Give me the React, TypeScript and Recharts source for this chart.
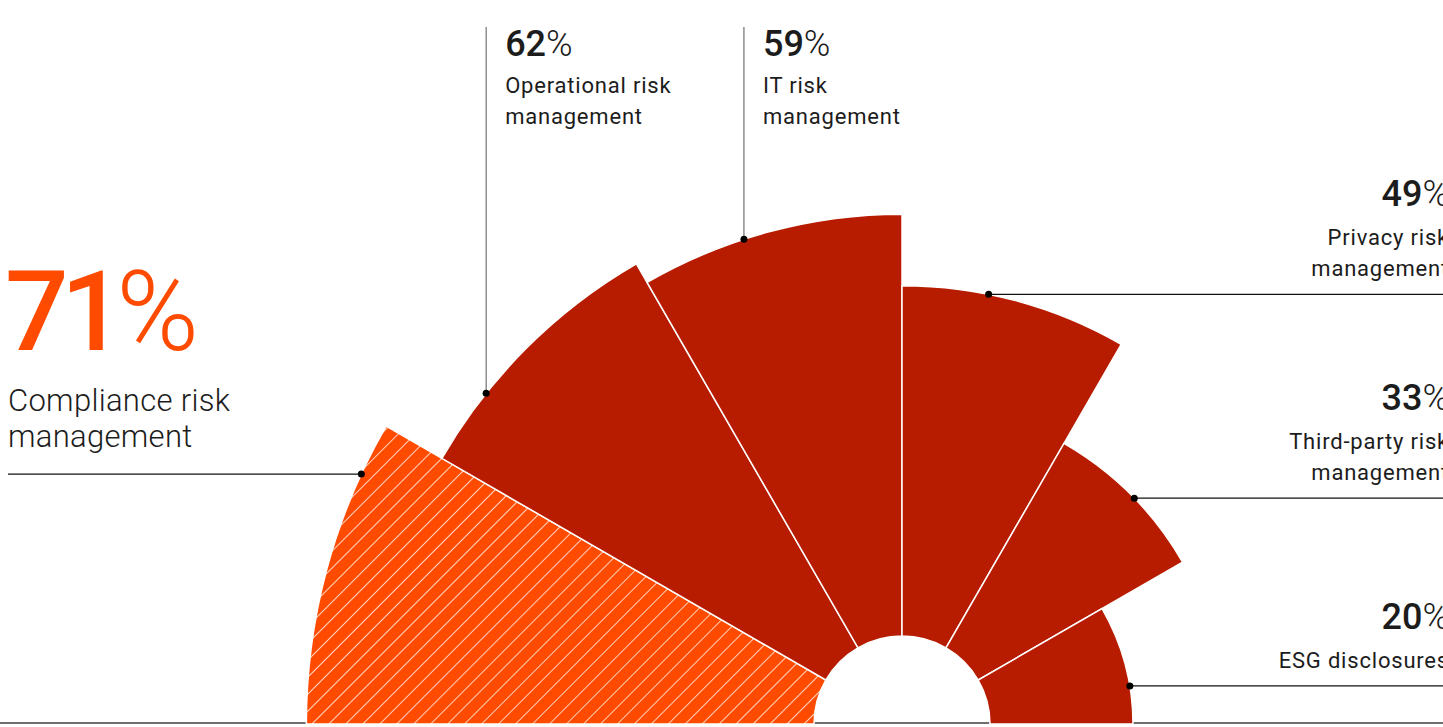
import { RadialBarChart, RadialBar, PolarAngleAxis, PolarRadiusAxis, Cell, Sector } from "recharts";

// survey: share of organisations naming each area (in %)
const categories = [
  "Compliance risk management",
  "Operational risk management",
  "IT risk management",
  "Privacy risk management",
  "Third-party risk management",
  "ESG disclosures",
];
const labelLines = [
  ["Compliance risk", "management"],
  ["Operational risk", "management"],
  ["IT risk", "management"],
  ["Privacy risk", "management"],
  ["Third-party risk", "management"],
  ["ESG disclosures"],
];
const shares = [71, 62, 59, 49, 33, 20];

// where each leader line leaves its slice (fraction of the slice angle) and which way it runs
const leaderSide = ["left", "up", "up", "right", "right", "right"];
const dotAt = [0.827, 0.283, 0.398, 0.38, 0.527, 0.684];

const W = 1443;
const H = 727;
const RED = "#b81c00";
const ORANGE = "#ff4b00";
const INK = "#1c1c1c";
const FONT = "Roboto, 'Noto Sans', sans-serif";
const RAD = Math.PI / 180;

const data = categories.map((name, i) => ({ name, value: shares[i], idx: i }));

function Pct({ x, y, value, size, anchor, color, spacing = 0 }: any) {
  return (
    <text x={x} y={y} textAnchor={anchor} fill={color} fontFamily={FONT} fontSize={size} letterSpacing={spacing}>
      <tspan fontWeight={500}>{value}</tspan>
      <tspan fontWeight={300}>%</tspan>
    </text>
  );
}

function RoseSector(props: any) {
  const { cx, cy, innerRadius, outerRadius, fill, payload } = props;
  // sectors always run clockwise from the larger angle
  const s = Math.max(props.startAngle, props.endAngle);
  const e = Math.min(props.startAngle, props.endAngle);
  const i = payload.idx;
  const a = (s + (e - s) * dotAt[i]) * RAD;
  const px = cx + outerRadius * Math.cos(a);
  const py = cy - outerRadius * Math.sin(a);
  const lines = labelLines[i];
  const side = leaderSide[i];

  let leader = null;
  let text = null;
  if (side === "up") {
    leader = <line x1={px} y1={27} x2={px} y2={py} stroke="#555" strokeWidth={1} />;
    text = (
      <g>
        <Pct x={px + 19} y={56} value={shares[i]} size={36} anchor="start" color={INK} />
        {lines.map((l, k) => (
          <text key={k} x={px + 19} y={93 + k * 31} fill={INK} fontFamily={FONT} fontSize={22} letterSpacing={0.8}>
            {l}
          </text>
        ))}
      </g>
    );
  } else if (side === "left") {
    leader = <line x1={8} y1={py} x2={px} y2={py} stroke="#111" strokeWidth={1.2} />;
    text = (
      <g>
        <Pct x={5} y={py - 124} value={shares[i]} size={112} anchor="start" color={ORANGE} spacing={-8} />
        {lines.map((l, k) => (
          <text key={k} x={8} y={py - 63 + k * 36} fill={INK} fontFamily={FONT} fontWeight={300} fontSize={31} letterSpacing={0.3}>
            {l}
          </text>
        ))}
      </g>
    );
  } else {
    leader = <line x1={px} y1={py} x2={W} y2={py} stroke="#111" strokeWidth={1.2} />;
    const n = lines.length;
    text = (
      <g>
        <Pct x={1449} y={py - 18 - (n - 1) * 31 - 39} value={shares[i]} size={36} anchor="end" color={INK} />
        {lines.map((l, k) => (
          <text key={k} x={1449} y={py - 18 - (n - 1 - k) * 31} textAnchor="end" fill={INK} fontFamily={FONT} fontSize={22} letterSpacing={0.8}>
            {l}
          </text>
        ))}
      </g>
    );
  }

  return (
    <g>
      <Sector
        cx={cx}
        cy={cy}
        innerRadius={innerRadius}
        outerRadius={outerRadius}
        startAngle={s}
        endAngle={e}
        fill={fill}
        stroke="#fff"
        strokeWidth={1.5}
      />
      {leader}
      <circle cx={px} cy={py} r={3.5} fill="#000" />
      {text}
    </g>
  );
}

export default function App() {
  return (
    <div style={{ position: "absolute", left: 0, top: 0, width: W, height: H, background: "#fff" }}>
      {/* the centric band offset lands one band counter-clockwise, so the range is shifted by one band */}
      <RadialBarChart
        width={W}
        height={H}
        data={data}
        layout="centric"
        cx={902}
        cy={724}
        innerRadius={88}
        outerRadius={803}
        startAngle={150}
        endAngle={-30}
        barCategoryGap={0}
        barGap={0}
        margin={{ top: 0, right: 0, bottom: 0, left: 0 }}
      >
        <defs>
          <pattern id="hatch" patternUnits="userSpaceOnUse" width={12} height={12} patternTransform="rotate(45)">
            <rect width={12} height={12} fill={ORANGE} />
            <line x1={0} y1={0} x2={0} y2={12} stroke="#fff" strokeWidth={1.5} />
          </pattern>
        </defs>
        <PolarAngleAxis type="category" dataKey="name" tick={false} axisLine={false} tickLine={false} />
        <PolarRadiusAxis type="number" domain={[0, 100]} tick={false} axisLine={false} tickLine={false} />
        <RadialBar dataKey="value" shape={RoseSector} isAnimationActive={false}>
          {data.map((d) => (
            <Cell key={d.name} fill={d.idx === 0 ? "url(#hatch)" : RED} />
          ))}
        </RadialBar>
        <line x1={0} y1={723} x2={W} y2={723} stroke="#6f6f6f" strokeWidth={2} />
      </RadialBarChart>
    </div>
  );
}
